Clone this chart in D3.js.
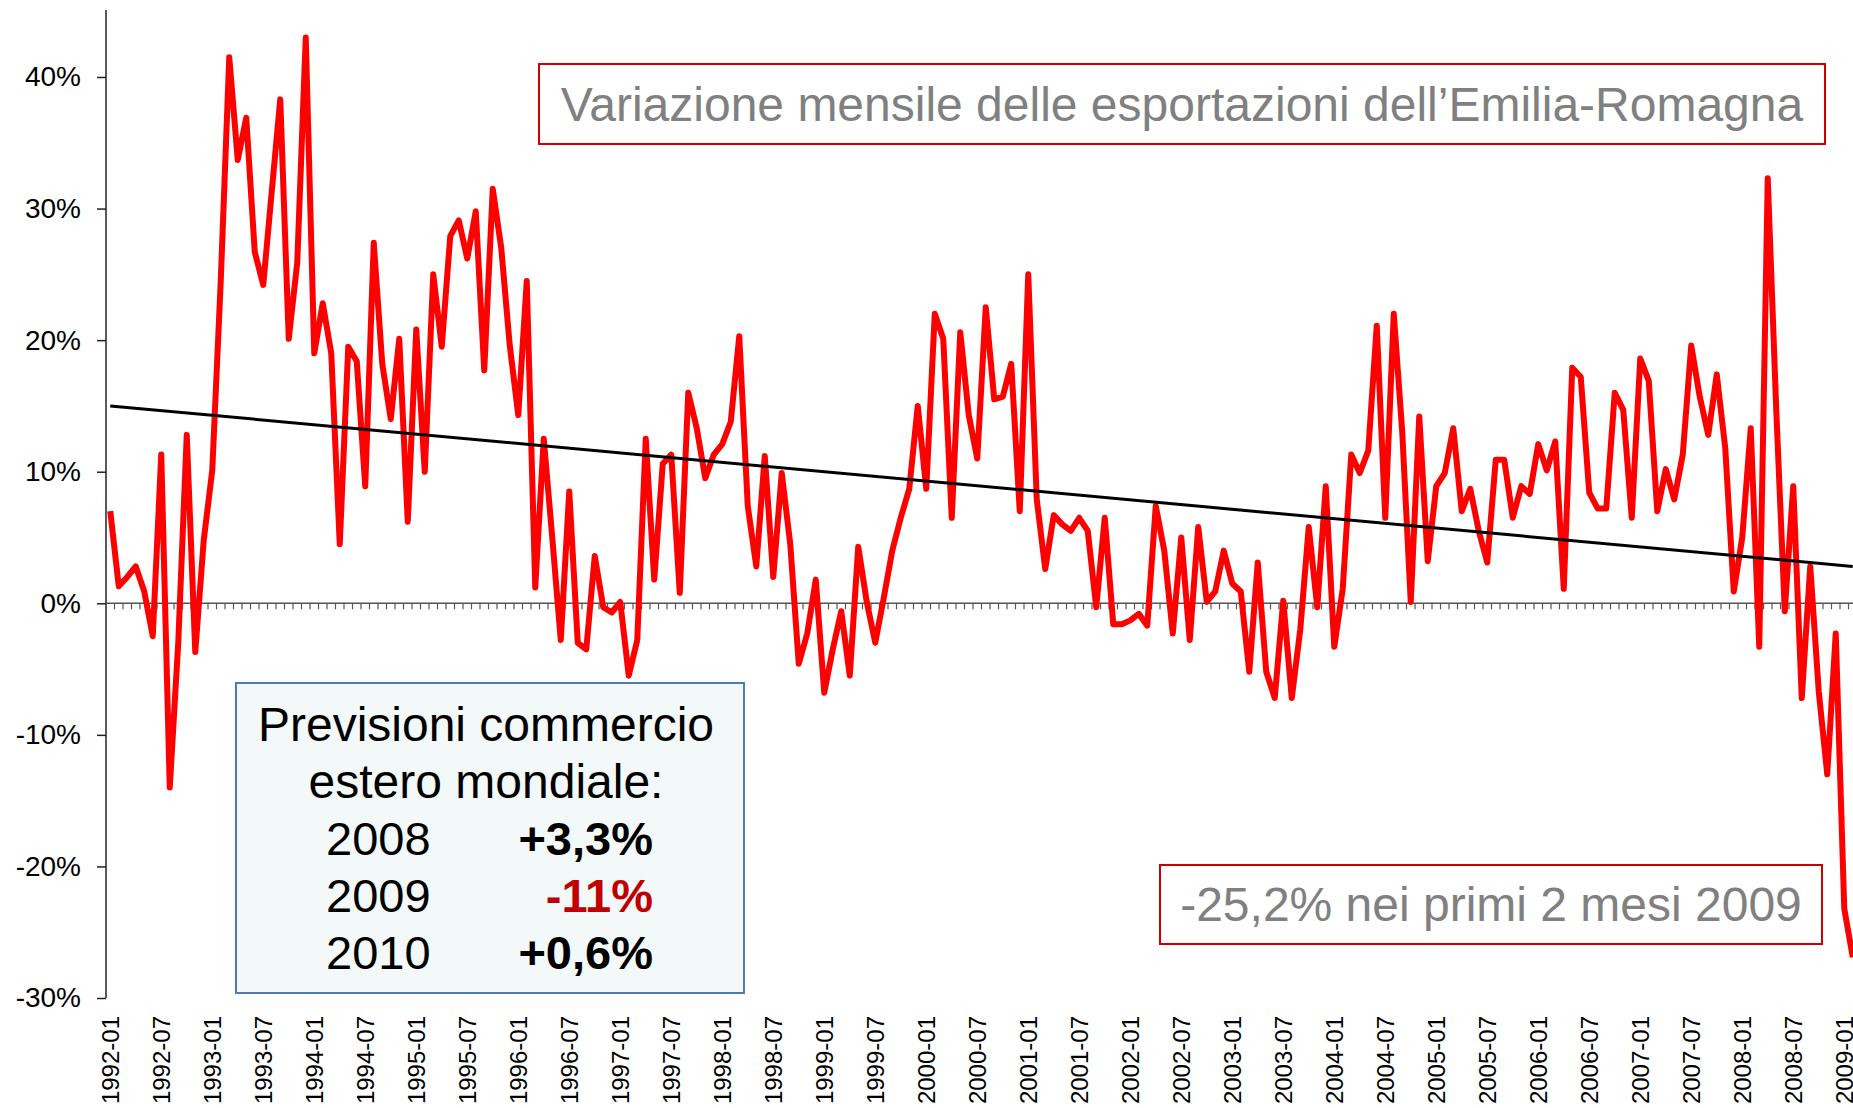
<!DOCTYPE html>
<html>
<head>
<meta charset="utf-8">
<script src="https://cdn.jsdelivr.net/npm/d3@7"></script>
<style>
  html, body { margin: 0; padding: 0; background: #fff; overflow: hidden; }
  svg { display: block; font-family: "Liberation Sans", Arial, sans-serif; }
</style>
</head>
<body>
<svg id="chart" width="1853" height="1108"></svg>
<script>
// Variazione mensile delle esportazioni dell'Emilia-Romagna, 1992-01 .. 2009-02 (valori in %)
const anni = [1992, 1993, 1994, 1995, 1996, 1997, 1998, 1999, 2000,
              2001, 2002, 2003, 2004, 2005, 2006, 2007, 2008, 2009];
const mesiNum = ['01', '02', '03', '04', '05', '06', '07', '08', '09', '10', '11', '12'];

const variazioni = [
  7.0, 1.3, 2.0, 2.8, 0.9, -2.5, 11.3, -14.0, -3.0, 12.8, -3.7, 4.8,        // 1992
  10.1, 24.5, 41.5, 33.7, 36.9, 26.7, 24.2, 31.3, 38.3, 20.1, 25.9, 43.0,   // 1993
  19.0, 22.8, 19.0, 4.5, 19.5, 18.4, 8.9, 27.4, 18.2, 14.0, 20.1, 6.2,      // 1994
  20.8, 10.0, 25.0, 19.5, 27.9, 29.1, 26.2, 29.8, 17.7, 31.5, 27.0, 19.6,   // 1995
  14.3, 24.5, 1.2, 12.5, 5.0, -2.8, 8.5, -3.0, -3.5, 3.6, -0.3, -0.7,       // 1996
  0.1, -5.5, -2.8, 12.5, 1.8, 10.6, 11.3, 0.8, 16.0, 13.3, 9.5, 11.3,       // 1997
  12.1, 13.8, 20.3, 7.4, 2.8, 11.2, 2.0, 9.9, 4.5, -4.6, -2.3, 1.8,         // 1998
  -6.8, -3.5, -0.6, -5.5, 4.3, 0.1, -3.0, 0.4, 4.0, 6.5, 8.7, 15.0,         // 1999
  8.7, 22.0, 20.1, 6.5, 20.6, 14.3, 11.0, 22.5, 15.5, 15.7, 18.2, 7.0,      // 2000
  25.0, 7.9, 2.6, 6.7, 6.0, 5.5, 6.5, 5.5, -0.3, 6.5, -1.6, -1.6,           // 2001
  -1.3, -0.8, -1.7, 7.4, 4.0, -2.3, 5.0, -2.8, 5.8, 0.1, 0.9, 4.0,          // 2002
  1.5, 0.9, -5.2, 3.1, -5.2, -7.2, 0.2, -7.2, -2.0, 5.8, -0.3, 8.9,         // 2003
  -3.3, 1.1, 11.3, 9.9, 11.6, 21.1, 6.5, 22.0, 13.0, 0.1, 14.2, 3.2,        // 2004
  8.9, 9.9, 13.3, 7.0, 8.7, 5.5, 3.1, 10.9, 10.9, 6.5, 8.9, 8.3,            // 2005
  12.1, 10.1, 12.3, 1.1, 17.9, 17.2, 8.4, 7.2, 7.2, 16.0, 14.7, 6.5,        // 2006
  18.6, 16.9, 7.0, 10.2, 7.9, 11.3, 19.6, 15.7, 12.8, 17.4, 11.8, 0.9,      // 2007
  5.0, 13.3, -3.3, 32.3, 14.7, -0.6, 8.9, -7.2, 2.8, -6.7, -13.0, -2.3,     // 2008
  -23.2, -26.9                                                              // 2009
];

// linea di tendenza (lineare): valore al primo e all'ultimo mese
const tendenza = [15.0, 2.8];
const tickY = [40, 30, 20, 10, 0, -10, -20, -30];

const titolo = 'Variazione mensile delle esportazioni dell\u2019Emilia-Romagna';
const nota = '-25,2% nei primi 2 mesi 2009';
const previsioniTitolo = ['Previsioni commercio', 'estero mondiale:'];
const previsioniAnni = ['2008', '2009', '2010'];
const previsioniValori = ['+3,3%', '-11%', '+0,6%'];
const previsioniColori = ['#000000', '#c00000', '#000000'];

// categorie mensili
const mesi = [];
anni.forEach(a => mesiNum.forEach(m => mesi.push(a + '-' + m)));
mesi.length = variazioni.length;
const etichetteX = mesi.filter(m => m.endsWith('-01') || m.endsWith('-07'));

const svg = d3.select('#chart');

const x = d3.scalePoint().domain(mesi).range([110.25, 1852.75]);
const y = d3.scaleLinear().domain([-30, 40]).range([998, 77]);
const step = x.step();
const x0 = 106;

// asse Y
const yAxis = d3.axisLeft(y)
  .tickValues(tickY)
  .tickSize(9)
  .tickPadding(16)
  .tickFormat(d => d + '%');

const gy = svg.append('g')
  .attr('transform', `translate(${x0},0)`)
  .call(yAxis);
gy.select('.domain').remove();
gy.selectAll('.tick line').attr('stroke', '#222').attr('stroke-width', 1.5);
gy.selectAll('.tick text')
  .attr('fill', '#000')
  .style('font-size', '28px')
  .style('font-family', '"Liberation Sans", Arial, sans-serif');
svg.append('line')
  .attr('x1', x0).attr('x2', x0)
  .attr('y1', 10).attr('y2', y(-30))
  .attr('stroke', '#222').attr('stroke-width', 1.5);

// asse dello zero con tacche mensili
const y0 = y(0);
svg.append('line')
  .attr('x1', x0).attr('x2', 1853)
  .attr('y1', y0).attr('y2', y0)
  .attr('stroke', '#555').attr('stroke-width', 1.5);
svg.append('g').selectAll('line')
  .data(mesi)
  .join('line')
  .attr('x1', d => x(d) + step / 2).attr('x2', d => x(d) + step / 2)
  .attr('y1', y0).attr('y2', y0 + 6)
  .attr('stroke', '#555').attr('stroke-width', 1.2);

// etichette mesi (ruotate)
svg.append('g').selectAll('text')
  .data(etichetteX)
  .join('text')
  .attr('transform', d => `translate(${x(d)},1016) rotate(-90)`)
  .attr('text-anchor', 'end')
  .attr('dy', '0.35em')
  .style('font-size', '24px')
  .attr('fill', '#000')
  .text(d => d);

// serie
const linea = d3.line()
  .x((d, i) => x(mesi[i]))
  .y(d => y(d));

svg.append('path')
  .datum(variazioni)
  .attr('d', linea)
  .attr('fill', 'none')
  .attr('stroke', '#ff0000')
  .attr('stroke-width', 6)
  .attr('stroke-linejoin', 'round');

// tendenza
svg.append('line')
  .attr('x1', x(mesi[0])).attr('y1', y(tendenza[0]))
  .attr('x2', x(mesi[mesi.length - 1])).attr('y2', y(tendenza[1]))
  .attr('stroke', '#000').attr('stroke-width', 3);

// riquadro titolo
svg.append('rect')
  .attr('x', 539).attr('y', 64).attr('width', 1286).attr('height', 80)
  .attr('fill', '#fff').attr('stroke', '#cc0000').attr('stroke-width', 2);
svg.append('text')
  .attr('x', 1182).attr('y', 121)
  .attr('text-anchor', 'middle')
  .attr('fill', '#808080')
  .style('font-size', '48px')
  .text(titolo);

// riquadro nota
svg.append('rect')
  .attr('x', 1160).attr('y', 865).attr('width', 662).attr('height', 79)
  .attr('fill', '#fff').attr('stroke', '#cc0000').attr('stroke-width', 2);
svg.append('text')
  .attr('x', 1491).attr('y', 921)
  .attr('text-anchor', 'middle')
  .attr('fill', '#808080')
  .style('font-size', '48px')
  .text(nota);

// riquadro previsioni
svg.append('rect')
  .attr('x', 236).attr('y', 683).attr('width', 508).attr('height', 310)
  .attr('fill', '#f3f8f8').attr('stroke', '#4f7bb0').attr('stroke-width', 2);
svg.append('g').selectAll('text')
  .data(previsioniTitolo)
  .join('text')
  .attr('x', 486).attr('y', (d, i) => 741 + i * 57)
  .attr('text-anchor', 'middle')
  .attr('fill', '#000')
  .style('font-size', '48px')
  .text(d => d);
svg.append('g').selectAll('text')
  .data(previsioniAnni)
  .join('text')
  .attr('x', 326).attr('y', (d, i) => 855 + i * 57)
  .attr('fill', '#000')
  .style('font-size', '47px')
  .text(d => d);
svg.append('g').selectAll('text')
  .data(previsioniValori)
  .join('text')
  .attr('x', 653).attr('y', (d, i) => 855 + i * 57)
  .attr('text-anchor', 'end')
  .attr('fill', (d, i) => previsioniColori[i])
  .style('font-size', '47px')
  .style('font-weight', 'bold')
  .text(d => d);
</script>
</body>
</html>
